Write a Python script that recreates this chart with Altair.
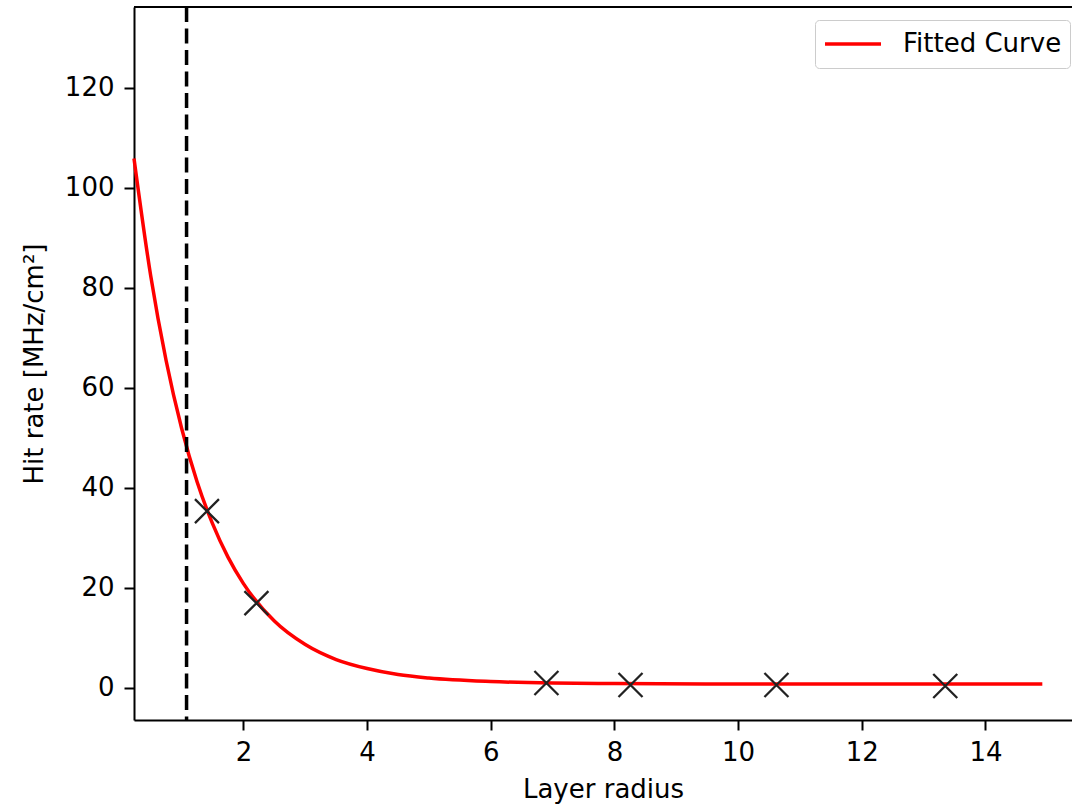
import altair as alt
import pandas as pd

# Measured data points (Layer radius, Hit rate)
point_radius = [1.41, 2.21, 6.90, 8.26, 10.62, 13.35]
point_rate = [35.3, 16.9, 0.9, 0.5, 0.5, 0.3]

# Fitted curve, values
curve_radius = [0.23, 0.5, 0.75, 1.0, 1.25, 1.5, 1.75, 2.0, 2.5, 3.0, 3.5, 4.0,
                4.5, 5.0, 6.0, 7.0, 8.0, 10.0, 12.0, 14.92]
curve_rate = [105.9, 82.4, 65.4, 51.9, 41.2, 32.8, 26.1, 20.8, 13.3, 8.6, 5.6, 3.8,
              2.6, 1.9, 1.2, 0.9, 0.8, 0.7, 0.7, 0.7]

# Vertical dashed reference line
vline_radius = [1.08]

x_ticks = [2, 4, 6, 8, 10, 12, 14]
y_ticks = [0, 20, 40, 60, 80, 100, 120]

W, H = 938, 713

curve_df = pd.DataFrame({"r": curve_radius, "rate": curve_rate,
                         "series": ["Fitted Curve"] * len(curve_radius)})
pts_df = pd.DataFrame({"r": point_radius, "rate": point_rate})
vline_df = pd.DataFrame({"r": vline_radius})

xscale = alt.Scale(domain=[0.23, 15.40], nice=False, zero=False)
yscale = alt.Scale(domain=[-6.5, 136.2], nice=False, zero=False)

xaxis = alt.Axis(values=x_ticks, title="Layer radius", labelPadding=9, titlePadding=11,
                 format="d")
yaxis = alt.Axis(values=y_ticks, title="Hit rate [MHz/cm²]", labelPadding=10,
                 titlePadding=17, format="d")

curve = alt.Chart(curve_df).mark_line(strokeWidth=3.5, interpolate="monotone").encode(
    x=alt.X("r:Q", scale=xscale, axis=xaxis),
    y=alt.Y("rate:Q", scale=yscale, axis=yaxis),
    color=alt.Color("series:N",
                    scale=alt.Scale(domain=["Fitted Curve"], range=["#ff0000"]),
                    legend=alt.Legend(title=None, orient="none", legendX=681, legendY=13,
                                      symbolType="stroke", symbolSize=3136,
                                      symbolStrokeWidth=3.5, labelFontSize=26,
                                      labelFont="DejaVu Sans", labelColor="black",
                                      labelOffset=20, padding=8, clipHeight=32,
                                      strokeColor="#cccccc",
                                      fillColor="white", cornerRadius=4)),
)

vline = alt.Chart(vline_df).mark_rule(color="black", strokeWidth=3.5,
                                      strokeDash=[15, 6.5]).encode(
    x=alt.X("r:Q", scale=xscale)
)

points = alt.Chart(pts_df).mark_point(
    shape="M-1,-1L1,1M-1,1L1,-1", size=576, filled=False, color="#222222",
    strokeWidth=2.3, opacity=1
).encode(
    x=alt.X("r:Q", scale=xscale),
    y=alt.Y("rate:Q", scale=yscale),
)

topline = alt.Chart(pd.DataFrame({"k": [0]})).mark_rule(color="black", strokeWidth=2).encode(
    x=alt.value(0), x2=alt.value(W), y=alt.value(0)
)

chart = alt.layer(curve, vline, points, topline).properties(
    width=W, height=H,
    padding={"left": 134, "top": 7, "right": 0, "bottom": 86},
    autosize=alt.AutoSizeParams(type="none"),
).configure_view(stroke=None).configure_axis(
    grid=False, domainColor="black", domainWidth=2, tickColor="black", tickWidth=2,
    tickSize=10, labelFont="DejaVu Sans", labelFontSize=26, labelColor="black",
    titleFont="DejaVu Sans", titleFontSize=26, titleFontWeight="normal",
    titleColor="black"
)

chart.save("out.html", embed_options={"renderer": "svg", "actions": False})
